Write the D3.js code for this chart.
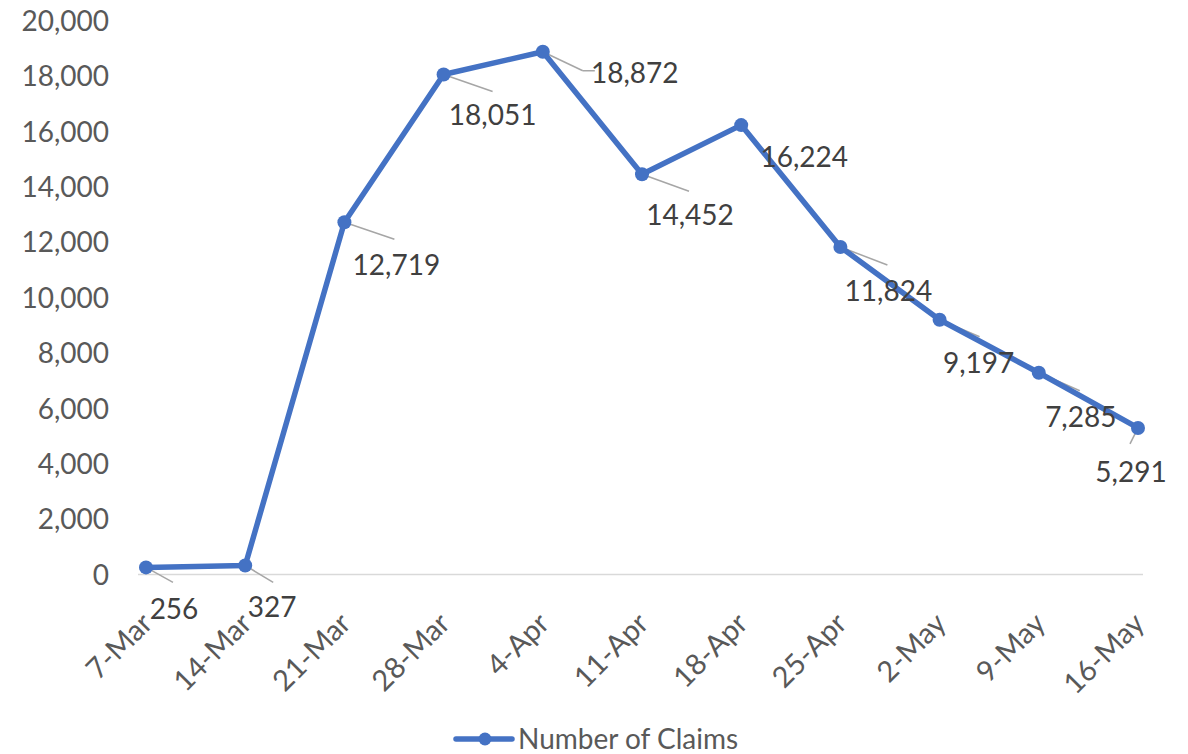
<!DOCTYPE html>
<html>
<head>
<meta charset="utf-8">
<script src="https://cdn.jsdelivr.net/npm/d3@7"></script>
<style>
  html, body { margin: 0; padding: 0; background: #fff; }
  svg { display: block; }
</style>
</head>
<body>
<svg id="chart" width="1188" height="754"></svg>
<script>
// ---- data ----
const categories = ["7-Mar", "14-Mar", "21-Mar", "28-Mar", "4-Apr", "11-Apr", "18-Apr", "25-Apr", "2-May", "9-May", "16-May"];
const claims = [256, 327, 12719, 18051, 18872, 14452, 16224, 11824, 9197, 7285, 5291];
const yTicks = [0, 2000, 4000, 6000, 8000, 10000, 12000, 14000, 16000, 18000, 20000];
const seriesName = "Number of Claims";

// ---- label layout (offsets from the point, in px): [labelCenterDx, labelCenterDy, leaderDx, leaderDy] ----
const labelOffsets = [
  [28, 42, 27, 15],
  [27, 42, 28, 17],
  [52, 43, 50, 17],
  [49, 41, 49, 17],
  [92, 21, 40, 19],
  [48, 41, 47, 17],
  [63, 32, null, null],
  [48, 44, 47, 18],
  [39, 43, 40, 17],
  [42, 44, 41, 18],
  [-7, 44, -8, 16]
];

const svg = d3.select("#chart");
const font = "Lato, 'Open Sans', sans-serif";

const x = d3.scalePoint().domain(categories).range([146, 1138]);
const y = d3.scaleLinear().domain([0, 20000]).range([574.5, 20.5]);

// y axis labels
const yAxis = d3.axisLeft(y).tickValues(yTicks).tickFormat(d3.format(",")).tickSize(0).tickPadding(0);
const gy = svg.append("g").attr("transform", "translate(109,0)").call(yAxis);
gy.select(".domain").remove();
gy.selectAll("text")
  .attr("font-family", font).attr("font-size", 28).attr("fill", "#595959")
  .attr("dy", "0.35em");

// x axis line
svg.append("line")
  .attr("x1", 138).attr("x2", 1143)
  .attr("y1", y(0)).attr("y2", y(0))
  .attr("stroke", "#D9D9D9").attr("stroke-width", 1.5);

// x axis labels
const xAxis = d3.axisBottom(x).tickSize(0).tickPadding(0);
const gx = svg.append("g").call(xAxis);
gx.select(".domain").remove();
gx.selectAll(".tick").attr("transform", null);
gx.selectAll(".tick text")
  .attr("font-family", font).attr("font-size", 29).attr("fill", "#595959")
  .attr("text-anchor", "end")
  .attr("dy", "0.35em")
  .attr("y", null)
  .attr("transform", d => `translate(${x(d) + 1},${618}) rotate(-45)`);

// leader lines
const pts = categories.map((c, i) => ({ c, v: claims[i], i }));
svg.append("g").selectAll("line")
  .data(pts.filter(p => labelOffsets[p.i][2] !== null))
  .join("line")
  .attr("x1", p => x(p.c)).attr("y1", p => y(p.v))
  .attr("x2", p => x(p.c) + labelOffsets[p.i][2])
  .attr("y2", p => y(p.v) + labelOffsets[p.i][3])
  .attr("stroke", "#A6A6A6").attr("stroke-width", 1.5);
// 18,872 leader has a short horizontal elbow
svg.append("line")
  .attr("x1", x(categories[4]) + labelOffsets[4][2]).attr("y1", y(claims[4]) + labelOffsets[4][3])
  .attr("x2", x(categories[4]) + labelOffsets[4][2] + 12).attr("y2", y(claims[4]) + labelOffsets[4][3])
  .attr("stroke", "#A6A6A6").attr("stroke-width", 1.5);

// line
const line = d3.line().x(p => x(p.c)).y(p => y(p.v));
svg.append("path")
  .datum(pts)
  .attr("d", line)
  .attr("fill", "none")
  .attr("stroke", "#4472C4")
  .attr("stroke-width", 5.5)
  .attr("stroke-linejoin", "round");

svg.append("g").selectAll("circle")
  .data(pts).join("circle")
  .attr("cx", p => x(p.c)).attr("cy", p => y(p.v))
  .attr("r", 7).attr("fill", "#4472C4");

// data labels
svg.append("g").selectAll("text")
  .data(pts).join("text")
  .attr("x", p => x(p.c) + labelOffsets[p.i][0])
  .attr("y", p => y(p.v) + labelOffsets[p.i][1])
  .attr("dy", "0.35em")
  .attr("text-anchor", "middle")
  .attr("font-family", font).attr("font-size", 28).attr("fill", "#404040")
  .text(p => d3.format(",")(p.v));

// legend
const lg = svg.append("g");
lg.append("line").attr("x1", 456).attr("x2", 512).attr("y1", 739).attr("y2", 739)
  .attr("stroke", "#4472C4").attr("stroke-width", 5.5).attr("stroke-linecap", "round");
lg.append("circle").attr("cx", 485).attr("cy", 739).attr("r", 6.5).attr("fill", "#4472C4");
lg.append("text").attr("x", 518).attr("y", 739).attr("dy", "0.35em")
  .attr("font-family", font).attr("font-size", 28).attr("fill", "#595959")
  .text(seriesName);
</script>
</body>
</html>
